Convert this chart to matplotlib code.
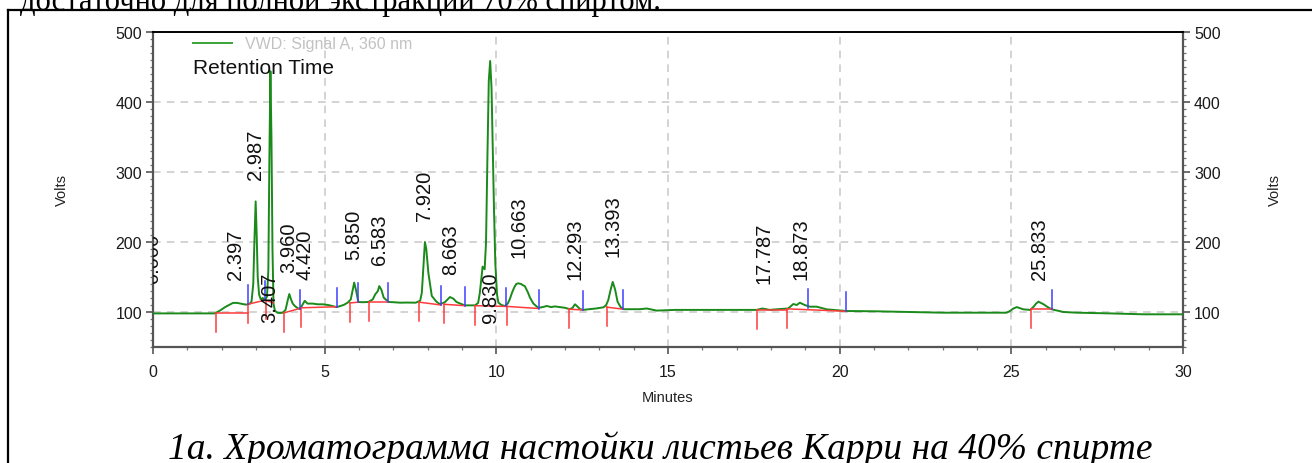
import numpy as np
import matplotlib.pyplot as plt
from matplotlib.lines import Line2D
from matplotlib.ticker import MultipleLocator

# detector trace (minutes, volts)
trace_t = [0.0, 0.5, 1.0, 1.5, 1.8, 1.95, 2.1, 2.33, 2.45, 2.55, 2.65, 2.74,
           2.82, 2.87, 2.92, 2.95, 2.99, 3.02, 3.05, 3.09, 3.14, 3.20, 3.26,
           3.32, 3.36, 3.39, 3.42, 3.45, 3.48, 3.51, 3.55, 3.62, 3.70, 3.78,
           3.86, 3.93, 3.97, 4.02, 4.07, 4.13, 4.20, 4.28, 4.35, 4.42, 4.50,
           4.65, 4.80, 4.95, 5.10, 5.35, 5.55, 5.67, 5.76, 5.82, 5.86, 5.91,
           5.98, 6.10, 6.27, 6.40, 6.47, 6.55, 6.59, 6.65, 6.72, 6.86, 7.00,
           7.20, 7.40, 7.65, 7.78, 7.83, 7.88, 7.92, 7.96, 8.02, 8.12, 8.25,
           8.36, 8.50, 8.65, 8.75, 8.84, 9.00, 9.09, 9.25, 9.38, 9.47, 9.52,
           9.57, 9.60, 9.66, 9.70, 9.74, 9.78, 9.82, 9.86, 9.90, 9.93, 9.97,
           10.02, 10.06, 10.15, 10.25, 10.33, 10.39, 10.46, 10.52, 10.58,
           10.64, 10.72, 10.78, 10.83, 10.92, 10.98, 11.08, 11.22, 11.35,
           11.47, 11.60, 11.70, 11.86, 12.00, 12.14, 12.22, 12.29, 12.36,
           12.44, 12.53, 12.70, 12.90, 13.12, 13.20, 13.26, 13.33, 13.39,
           13.46, 13.53, 13.62, 13.70, 13.90, 14.18, 14.38, 14.67, 15.20,
           15.64, 16.10, 16.61, 17.10, 17.58, 17.75, 17.96, 18.20, 18.50,
           18.65, 18.75, 18.84, 18.98, 19.13, 19.33, 19.62, 20.20, 21.07,
           22.04, 23.01, 23.98, 24.86, 24.96, 25.06, 25.16, 25.35, 25.55,
           25.65, 25.72, 25.79, 25.94, 26.06, 26.18, 26.52, 26.91, 27.88,
           28.85, 30.0]
trace_v = [98, 98, 98, 98, 98, 102, 107, 113, 113, 112, 111, 110.5,
           112, 115, 140, 195, 258, 210, 150, 125, 118, 120, 117,
           122, 160, 320, 444, 350, 190, 112, 102, 99, 98.5, 99,
           103, 118, 125.7, 118, 112, 108.6, 106, 104, 110, 116, 112,
           112, 111, 111, 110, 107, 110, 113.3, 118, 132, 142, 132,
           114.3, 114, 114.3, 118, 125, 130, 137, 132, 120.5, 114.3, 114,
           113.3, 113.5, 113.3, 116, 127.6, 168, 200, 190, 156, 123, 115,
           111, 114, 121.4, 119, 114.3, 111, 109.5, 109.5, 109.5, 113, 127.6,
           150, 164.8, 161, 200, 320, 430, 458.6, 420, 320, 251, 170,
           125, 113.3, 110, 108.6, 112, 118, 128, 135, 140,
           141, 140, 138, 137, 128, 120.5, 112, 106, 107,
           108.6, 107, 108, 107, 106, 104, 106, 111, 108,
           104, 103, 104, 105, 106.7, 110, 117, 132, 143,
           132, 114.8, 107, 104, 104, 104, 105, 102, 103,
           103, 103, 103, 103, 103, 105, 103, 104, 105,
           111.4, 110, 113.3, 110, 107.6, 107.6, 103.8, 101.4, 101,
           100, 99, 99, 99, 101.4, 105, 107, 103.8, 103,
           107.6, 112, 114.8, 111, 107, 103.8, 100, 99, 98,
           96.7, 96.7]

# peak labels and where their text starts (volts)
peak_labels = ["0.000", "2.397", "2.987", "3.407", "3.960", "4.420", "5.850",
               "6.583", "7.920", "8.663", "9.830", "10.663", "12.293",
               "13.393", "17.787", "18.873", "25.833"]
label_base = [142, 147, 290, 85, 157, 147, 175, 168, 232, 154, 85, 178,
              147, 180, 142, 147, 147]

# integration baselines (t0, v0, t1, v1)
base_segments = [(1.83, 98, 2.76, 98), (2.76, 111, 3.27, 117),
                 (3.29, 117, 3.50, 113), (3.83, 99, 4.27, 105),
                 (4.31, 106, 5.35, 107.5), (5.74, 113, 5.98, 114),
                 (6.29, 114, 6.85, 114), (7.76, 114, 8.39, 110),
                 (8.48, 111, 9.09, 109), (9.38, 109, 10.28, 108),
                 (10.30, 108, 11.24, 105), (12.12, 104, 12.52, 103),
                 (13.21, 107, 13.70, 104), (17.60, 103, 18.48, 103),
                 (18.48, 104.5, 20.18, 101), (25.56, 104, 26.18, 104)]
# blue end markers (t, v)
end_t = [2.76, 3.27, 4.27, 5.35, 5.98, 6.85, 8.39, 9.09, 10.28, 11.24,
         12.52, 13.70, 19.09, 20.18, 26.18]
end_v = [111, 117, 105, 107.5, 114, 114, 110, 109, 108, 105,
         103, 104, 106, 101, 104]

fig = plt.figure(figsize=(13.12, 4.64), dpi=100)
ax = fig.add_axes([153/1312, 1-348/464, (1183-153)/1312, (348-33)/464])

green = '#1a8a1a'
red = '#ff3b3b'
blue = '#3f3fff'

ax.plot(trace_t, trace_v, color=green, lw=1.4, zorder=3)

for t0, v0, t1, v1 in base_segments:
    ax.plot([t0, t1], [v0, v1], color=red, lw=1.1, zorder=4)
    ax.plot([t0, t0], [v0, v0 - 27], color=red, lw=1.1, zorder=4)
for t, v in zip(end_t, end_v):
    ax.plot([t, t], [v, v + 27], color=blue, lw=1.1, zorder=4)

for lab, b in zip(peak_labels, label_base):
    ax.text(float(lab), b, lab, rotation=90, ha='center', va='bottom',
            fontsize=14.5, family='Liberation Sans', color='#111111',
            clip_on=True, zorder=5)

ax.set_xlim(0, 30)
ax.set_ylim(50, 500)
ax.xaxis.set_major_locator(MultipleLocator(5))
ax.xaxis.set_minor_locator(MultipleLocator(1))
ax.yaxis.set_major_locator(MultipleLocator(100))
ax.yaxis.set_minor_locator(MultipleLocator(10))
ax.grid(True, which='major', color='#c8c8c8', ls=(0, (5, 4)), lw=1.1)
ax.set_axisbelow(True)

for s in ['left', 'right', 'bottom']:
    ax.spines[s].set_color('#555555')
    ax.spines[s].set_linewidth(1.6)
ax.spines['top'].set_color('black')
ax.spines['top'].set_linewidth(1.4)

ax.tick_params(axis='both', which='major', length=5, width=1.2,
               color='#555555', labelsize=11.5, labelcolor='#1a1a1a')
ax.tick_params(axis='both', which='minor', length=2.5, width=0.9,
               color='#777777')
ax.tick_params(axis='x', which='major', pad=7)
ax.tick_params(axis='y', which='both', right=True, labelright=True)
ax.tick_params(axis='y', which='major', pad=3)
for lbl in ax.get_xticklabels() + ax.get_yticklabels():
    lbl.set_family('Liberation Sans')

# legend-like header
ax.add_line(Line2D([193/1312, 232/1312], [1-44/464, 1-44/464],
                   transform=fig.transFigure, color='#3aa33a', lw=1.4))
fig.text(245/1312, 1-44/464, "VWD: Signal A, 360 nm", color='#c2c2c2',
         fontsize=11.5, family='Liberation Sans', va='center', ha='left')
fig.text(193/1312, 1-68/464, "Retention Time", color='#111111',
         fontsize=15, family='Liberation Sans', va='center', ha='left')

fig.text(668/1312, 1-398/464, "Minutes", fontsize=10.5, family='Liberation Sans',
         ha='center', va='center', color='#222222')
fig.text(62/1312, 1-190/464, "Volts", rotation=90, fontsize=10.5,
         family='Liberation Sans', ha='center', va='center', color='#222222')
fig.text(1275/1312, 1-190/464, "Volts", rotation=90, fontsize=10.5,
         family='Liberation Sans', ha='center', va='center', color='#222222')

# document frame and surrounding text
fig.add_artist(Line2D([8/1312, 8/1312], [0, 1-11/464], color='black', lw=1.6,
                      transform=fig.transFigure))
fig.add_artist(Line2D([8/1312, 1], [1-11/464, 1-11/464], color='black', lw=1.6,
                      transform=fig.transFigure))
fig.text(20/1312, 1-10/464, "достаточно для полной экстракции 70% спиртом.",
         fontsize=22, family='Liberation Serif', ha='left', va='baseline')
fig.text(660/1312, 1-459/464,
         "1а. Хроматограмма настойки листьев Карри на 40% спирте",
         fontsize=27, family='Liberation Serif', style='italic',
         ha='center', va='baseline')

fig.savefig('out.png', dpi=100)
